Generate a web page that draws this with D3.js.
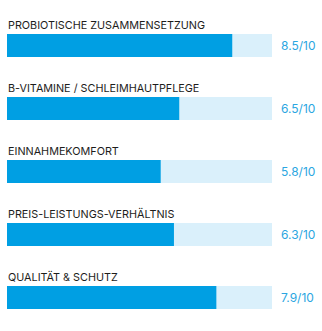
<!DOCTYPE html>
<html>
<head>
<meta charset="utf-8">
<script src="https://cdn.jsdelivr.net/npm/d3@7"></script>
<style>
  body { margin: 0; background: #fff; }
  .label { font-family: Inter, "Open Sans", sans-serif; font-size: 10.8px; font-weight: 400; fill: #1d1d1b; }
  .value { font-family: Inter, "Open Sans", sans-serif; font-size: 12px; fill: #2ba6e1; }
</style>
</head>
<body>
<svg id="chart"></svg>
<script>
// rating categories and scores (out of 10)
const categories = [
  "PROBIOTISCHE ZUSAMMENSETZUNG",
  "B-VITAMINE / SCHLEIMHAUTPFLEGE",
  "EINNAHMEKOMFORT",
  "PREIS-LEISTUNGS-VERHÄLTNIS",
  "QUALITÄT & SCHUTZ"
];
const scores = [8.5, 6.5, 5.8, 6.3, 7.9];
const maxScore = 10;

const width = 322, height = 331;
const colors = { bar: "#009fe3", track: "#daf0fb" };

const svg = d3.select("#chart")
    .attr("width", width)
    .attr("height", height);

// one row per category
const yScale = d3.scaleBand()
    .domain(categories)
    .range([3, 318]);

const xScale = d3.scaleLinear()
    .domain([0, maxScore])
    .range([7, 272]);

const barH = 23;
const data = categories.map((c, i) => ({ name: c, score: scores[i] }));

const rows = svg.selectAll(".row")
    .data(data)
    .enter()
    .append("g")
    .attr("class", "row")
    .attr("transform", d => `translate(0,${yScale(d.name)})`);

// label above the bar
rows.append("text")
    .attr("class", "label")
    .attr("x", xScale(0) + 1)
    .attr("y", 26)
    .text(d => d.name);

// background track
rows.append("rect")
    .attr("x", xScale(0))
    .attr("y", 31)
    .attr("width", xScale(maxScore) - xScale(0))
    .attr("height", barH)
    .attr("fill", colors.track);

// score bar
rows.append("rect")
    .attr("x", xScale(0))
    .attr("y", 31)
    .attr("width", d => xScale(d.score) - xScale(0))
    .attr("height", barH)
    .attr("fill", colors.bar);

// score text
rows.append("text")
    .attr("class", "value")
    .attr("x", 281)
    .attr("y", 31 + barH / 2)
    .attr("dy", "0.36em")
    .text(d => d.score.toFixed(1) + "/" + maxScore);
</script>
</body>
</html>
